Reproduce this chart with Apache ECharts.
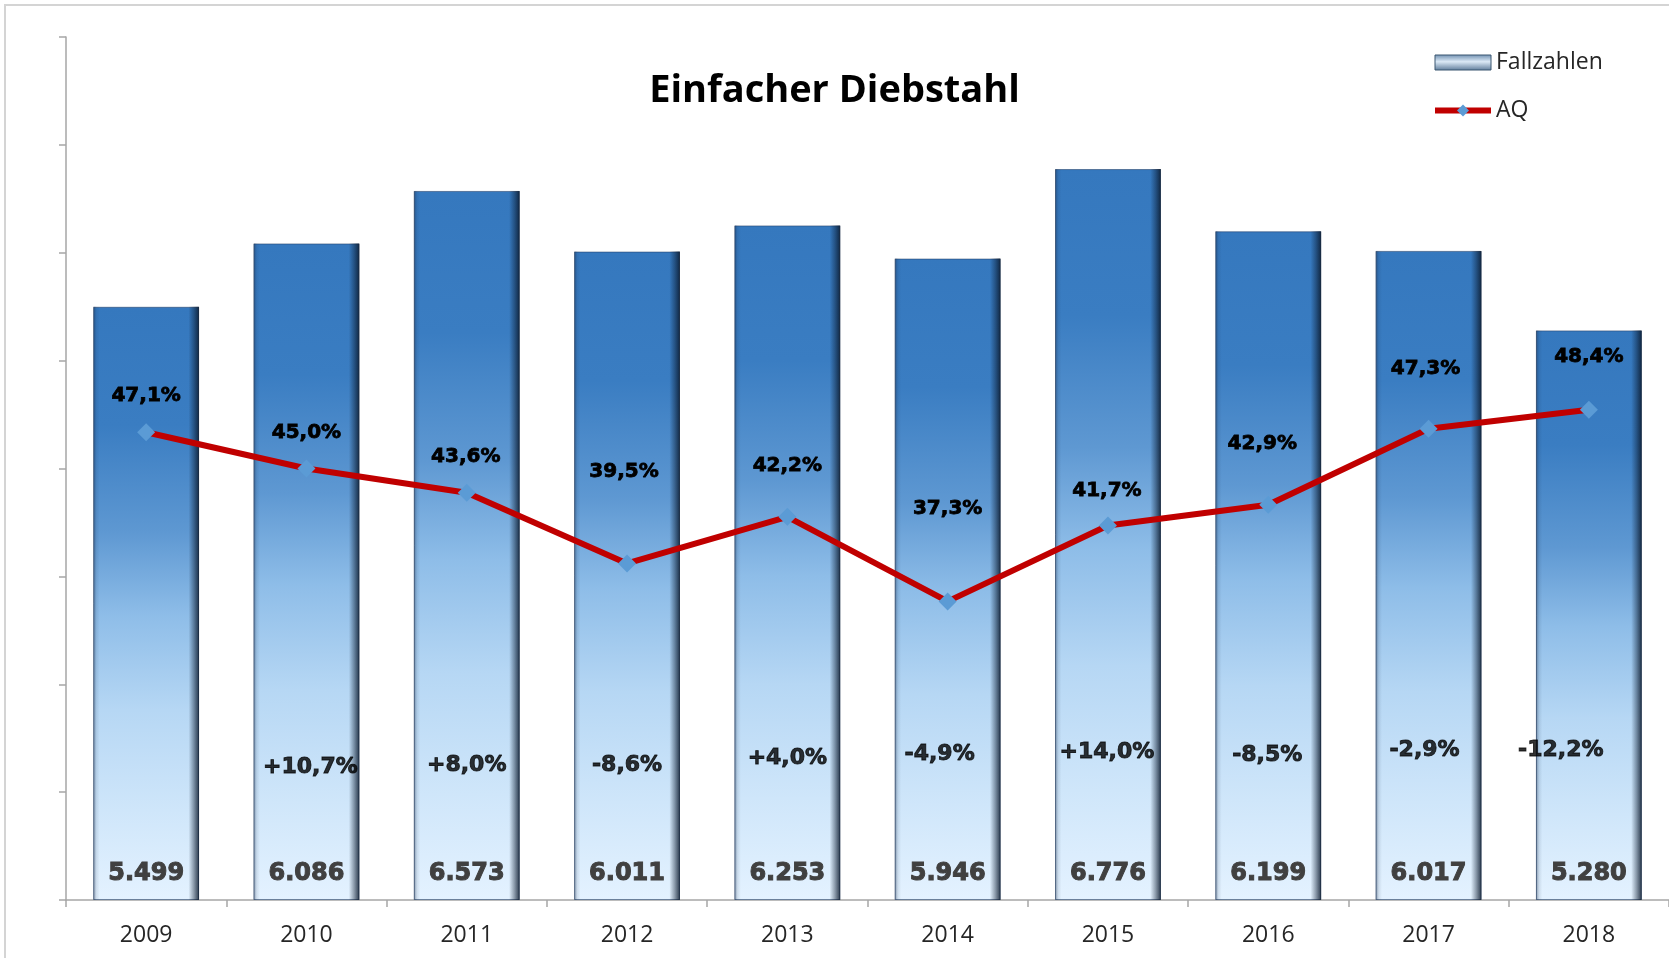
<!DOCTYPE html>
<html><head><meta charset="utf-8">
<script src="https://cdn.jsdelivr.net/npm/echarts@6/dist/echarts.min.js"></script>
<style>html,body{margin:0;padding:0;background:#fff}#c{width:1669px;height:958px}</style>
</head><body><div id="c"></div>
<script>
// ---- data ----
const years = ['2009','2010','2011','2012','2013','2014','2015','2016','2017','2018'];
const fallzahlen = [5499,6086,6573,6011,6253,5946,6776,6199,6017,5280];
const aq = [47.1,45.0,43.6,39.5,42.2,37.3,41.7,42.9,47.3,48.4];
const changes = ['', '+10,7%','+8,0%','-8,6%','+4,0%','-4,9%','+14,0%','-8,5%','-2,9%','-12,2%'];

// ---- layout (label placement, not data) ----
const changeAnchor = 1316;
const aqLabelOffsets = [[0,-36],[0,-36],[-1,-36],[-3,-92],[0,-51],[0,-93],[-1,-35],[-6,-61],[-3,-60],[0,-53]];
const changeLabelOffsets = [[0,0],[4,9],[0,7],[0,7],[0,0],[-8,-4],[-1,-6],[-1,-3],[-4,-8],[-28,-8]];

const fmtThousands = v => String(v).replace(/\B(?=(\d{3})+(?!\d))/g, '.');
const fmtPct = v => v.toFixed(1).replace('.', ',') + '%';

const barGradient = new echarts.graphic.LinearGradient(0,0,0,1,[
  {offset:0, color:'#3578BE'},
  {offset:0.2, color:'#3A7DC2'},
  {offset:0.38, color:'#5E98D2'},
  {offset:0.52, color:'#8EBDE8'},
  {offset:0.68, color:'#B6D7F4'},
  {offset:0.85, color:'#CFE6FA'},
  {offset:1, color:'#E4F2FF'}
]);
const bevelGradient = new echarts.graphic.LinearGradient(0,0,1,0,[
  {offset:0, color:'rgba(20,40,70,0.45)'},
  {offset:0.03, color:'rgba(20,40,70,0.10)'},
  {offset:0.06, color:'rgba(20,40,70,0)'},
  {offset:0.90, color:'rgba(10,25,45,0)'},
  {offset:0.95, color:'rgba(10,25,45,0.40)'},
  {offset:1, color:'rgba(10,25,45,0.85)'}
]);

const chart = echarts.init(document.getElementById('c'), null, {renderer:'canvas'});
chart.setOption({
  animation: false,
  backgroundColor: '#fff',
  graphic: [{
    type: 'rect', shape: {x:5, y:5, width:1700, height:1000},
    style: {fill:'none', stroke:'#d4d4d4', lineWidth:2}, silent:true, z:-10
  }],
  title: {
    text: 'Einfacher Diebstahl',
    left: 'center', top: 64,
    textStyle: {fontFamily:'Open Sans', fontWeight:'bold', fontSize:38, color:'#000', lineHeight:44}
  },
  legend: {
    orient: 'vertical', left: 1427, top: 46, itemGap: 25,
    itemWidth: 56, itemHeight: 15,
    textStyle: {fontFamily:'Open Sans', fontSize:23, color:'#262626'},
    data: [
      {name:'Fallzahlen', icon:'rect', itemStyle:{
        color:new echarts.graphic.LinearGradient(0,0,0,1,[
          {offset:0,color:'#6f8fb0'},{offset:0.45,color:'#dbe9f6'},{offset:1,color:'#5d7b9a'}]),
        borderColor:'#3b5670', borderWidth:1}},
      {name:'AQ', lineStyle:{color:'#C00000', width:6}, itemStyle:{color:'#5B9BD5'}}
    ]
  },
  grid: {left:66, right:0, top:37, bottom:58, containLabel:false, outerBoundsMode:'none'},
  xAxis: {
    type:'category', data: years,
    axisLine:{lineStyle:{color:'#a6a6a6', width:1.5}},
    axisTick:{show:true, length:7, lineStyle:{color:'#a6a6a6', width:1.5}},
    axisLabel:{fontFamily:'Open Sans', fontSize:23, color:'#262626', margin:24}
  },
  yAxis: [
    {type:'value', min:0, max:8000, interval:1000,
     axisLine:{show:true, lineStyle:{color:'#a6a6a6', width:1.5}},
     axisTick:{show:true, inside:false, length:7, lineStyle:{color:'#a6a6a6', width:1.5}},
     axisLabel:{show:false}, splitLine:{show:false}},
    {type:'value', min:20, max:70, show:false, splitLine:{show:false}}
  ],
  series: [
    {
      name:'Fallzahlen', type:'bar', data: fallzahlen, barWidth:'66%', barGap:'-100%',
      itemStyle:{color: barGradient, borderColor:'rgba(40,70,110,0.6)', borderWidth:1},
      label:{show:true, position:'insideBottom', distance:14,
        formatter: p => fmtThousands(p.value),
        fontFamily:'DejaVu Sans', fontWeight:'bold', fontSize:24, color:'#404040',
        textBorderColor:'#404040', textBorderWidth:1},
      z:2
    },
    {
      name:'bevel', type:'bar', data: fallzahlen, barWidth:'66%', barGap:'-100%', silent:true,
      itemStyle:{color: bevelGradient}, z:3
    },
    {
      name:'change', type:'scatter', silent:true,
      data: changes.map((c,i) => c ? {value:[i, changeAnchor], label:{offset:changeLabelOffsets[i]}} : {value:[i,'-']}),
      symbolSize:1, itemStyle:{color:'rgba(0,0,0,0)'},
      label:{show:true, position:'inside', formatter: p => changes[p.dataIndex],
        fontFamily:'DejaVu Sans', fontWeight:'bold', fontSize:22, color:'#000',
        textBorderColor:'#000', textBorderWidth:0.9},
      z:5
    },
    {
      name:'AQ', type:'line', yAxisIndex:1,
      data: aq.map((v,i) => ({value:v, label:{offset:aqLabelOffsets[i]}})),
      lineStyle:{color:'#C00000', width:6},
      itemStyle:{color:'#5B9BD5'},
      symbol:'diamond', symbolSize:18, showSymbol:true,
      label:{show:true, position:'inside', formatter: p => fmtPct(aq[p.dataIndex]),
        fontFamily:'DejaVu Sans', fontWeight:'bold', fontSize:20, color:'#000',
        textBorderColor:'#000', textBorderWidth:0.8},
      z:6
    }
  ]
});
</script></body></html>
